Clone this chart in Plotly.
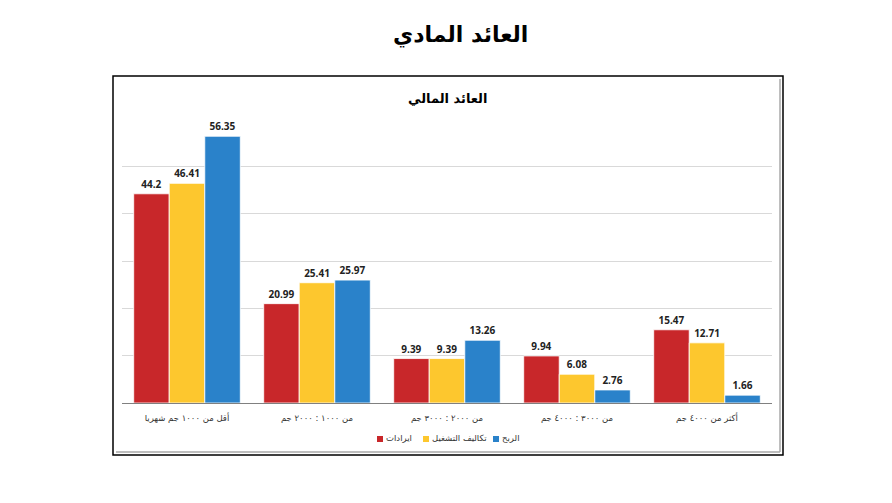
import plotly.graph_objects as go

# categories (left to right) and series values
categories = [
    "أقل من ١٠٠٠ جم شهريا",
    "من ١٠٠٠ : ٢٠٠٠ جم",
    "من ٢٠٠٠ : ٣٠٠٠ جم",
    "من ٣٠٠٠ : ٤٠٠٠ جم",
    "أكثر من ٤٠٠٠ جم",
]
series_names = ["ايرادات", "تكاليف التشغيل", "الربح"]
revenue = [44.2, 20.99, 9.39, 9.94, 15.47]
costs = [46.41, 25.41, 9.39, 6.08, 12.71]
profit = [56.35, 25.97, 13.26, 2.76, 1.66]
colors = ["#C8272A", "#FDC72E", "#2A82CA"]

# the page body adds an 8px margin, so work in page pixels minus 8
OFF = 8
W, H = 892 - OFF, 503 - OFF
L, R, T, B = 122 - OFF, 772 - OFF, 119 - OFF, 403 - OFF  # plot area


def px_x(v):
    return (v - OFF - L) / (R - L)


def px_y(v):
    return (B - (v - OFF)) / (B - T)


fig = go.Figure()
for name, vals, col in zip(series_names, [revenue, costs, profit], colors):
    fig.add_trace(go.Bar(
        x=categories, y=vals, name=name, showlegend=False,
        marker=dict(color=col, line=dict(color="rgba(255,255,255,0.8)", width=1)),
        texttemplate="<b>%{y}</b>",
        textposition="outside",
        textfont=dict(family="Open Sans", size=10, color="#222"),
        cliponaxis=False,
    ))

fig.update_layout(
    width=W, height=H,
    margin=dict(l=L, r=W - R, t=T, b=H - B),
    paper_bgcolor="white", plot_bgcolor="white",
    barmode="group", bargap=0.18, bargroupgap=0,
    font=dict(family="DejaVu Sans", color="#222"),
    showlegend=False,
    xaxis=dict(
        showgrid=False, showline=True, linecolor="#808080", linewidth=1,
        tickfont=dict(size=8.5, color="#333"), ticks="", ticklen=0,
        ticklabelstandoff=7,
    ),
    yaxis=dict(
        range=[0, 60], dtick=10, showticklabels=False, showgrid=True,
        gridcolor="#D9D9D9", gridwidth=1, zeroline=False,
    ),
)

# legend drawn by hand to get the compact spacing of the original
legend_x = [380, 426, 496]
legend_y = 439
for name, col, lx in zip(series_names, colors, legend_x):
    fig.add_shape(type="rect", xref="paper", yref="paper",
                  x0=px_x(lx - 3), x1=px_x(lx + 3),
                  y0=px_y(legend_y + 3), y1=px_y(legend_y - 3),
                  fillcolor=col, line=dict(width=0))
    fig.add_annotation(text=name, xref="paper", yref="paper",
                       x=px_x(lx + 4), y=px_y(legend_y - 1),
                       xanchor="left", yanchor="middle", showarrow=False,
                       font=dict(size=8.5, color="#333"))

# outer titles
fig.add_annotation(
    text="<b>العائد المادي</b>", xref="paper", yref="paper",
    x=px_x(460), y=px_y(35), xanchor="center", yanchor="middle", showarrow=False,
    font=dict(family="DejaVu Sans", size=22, color="black"),
)
fig.add_annotation(
    text="<b>العائد المالي</b>", xref="paper", yref="paper",
    x=px_x(447), y=px_y(98), xanchor="center", yanchor="middle", showarrow=False,
    font=dict(family="DejaVu Sans", size=13, color="black"),
)

# chart frame with shadow
fig.add_shape(type="rect", xref="paper", yref="paper",
              x0=px_x(113), x1=px_x(783), y0=px_y(455), y1=px_y(76),
              line=dict(color="black", width=1.5))
fig.add_shape(type="line", xref="paper", yref="paper",
              x0=px_x(780), x1=px_x(780), y0=px_y(452), y1=px_y(79),
              line=dict(color="#A8A8A8", width=1.5))
fig.add_shape(type="line", xref="paper", yref="paper",
              x0=px_x(116), x1=px_x(780), y0=px_y(452), y1=px_y(452),
              line=dict(color="#A8A8A8", width=1.5))

fig.write_html("out.html")
